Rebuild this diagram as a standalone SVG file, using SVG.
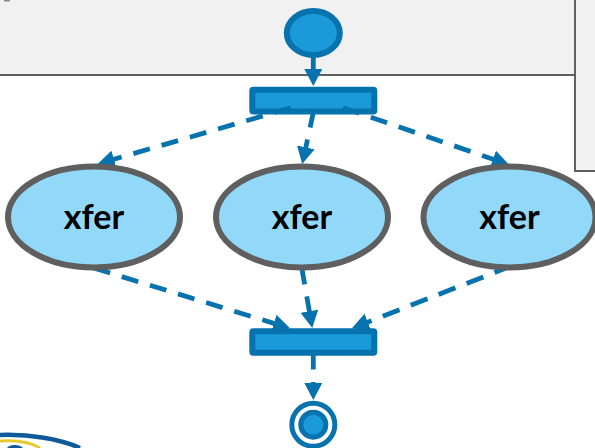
<svg xmlns="http://www.w3.org/2000/svg" width="595" height="448" viewBox="0 0 595 448">
<style>
.pseudo{fill:#1b9ad9;stroke:#0672ae;stroke-width:6}
.task{fill:#92d8f9;stroke:#5f5f5f;stroke-width:6}
.lbl{font-family:Lato,"Liberation Sans",sans-serif;font-weight:700;font-size:34px;fill:#000;text-anchor:middle}
.flow{fill:none;stroke:#0672ae;stroke-width:4.800}
.dash{stroke-dasharray:17.200 12.200}
.panel{fill:#f1f1f1;stroke:#606060;stroke-width:2}
</style>
<defs>
<marker id="ah" markerUnits="userSpaceOnUse" markerWidth="20" markerHeight="20" refX="9" refY="9" orient="auto">
<path d="M0 0L17 9L0 18Z" fill="#0672ae"/>
</marker>
</defs>
<g id="background">
<rect x="-5" y="-5" width="580" height="80" class="panel"/>
<rect x="575" y="-5" width="30" height="176" class="panel"/>
<rect x="4" y="0" width="6" height="1.500" fill="#8a8a8a"/>
<path d="M0 435C30 434 60 439 80 448" fill="none" stroke="#0f5a9c" stroke-width="4.500"/>
<path d="M0 441C18 440 32 443 40 448" fill="none" stroke="#e8c92c" stroke-width="3"/>
<path d="M7 448C9 444 20 444 23 448Z" fill="#0f5a9c"/>
</g>
<g id="fork"><rect x="252.300" y="89.700" width="122" height="21.800" rx="1" class="pseudo"/></g>
<g id="join"><rect x="252.300" y="331.300" width="122" height="21.500" rx="1" class="pseudo"/></g>
<g id="connectors">
<path class="flow" d="M313.300 57V78" marker-end="url(#ah)"/>
<path class="flow dash" d="M291 107.700L105.300 161.800" marker-end="url(#ah)"/>
<path class="flow dash" d="M313.700 110.700L303.900 156.200" marker-end="url(#ah)"/>
<path class="flow dash" d="M343 107.700L501.500 162.100" marker-end="url(#ah)"/>
<path class="flow dash" d="M93.700 268L282.400 326" marker-end="url(#ah)"/>
<path class="flow dash" d="M301.700 267.500L310.900 320.100" marker-end="url(#ah)"/>
<path class="flow dash" style="stroke-dasharray:18 12" d="M511.300 266L359.400 325.400" marker-end="url(#ah)"/>
<path class="flow" d="M313.300 355V369.500"/>
<path class="flow" d="M313.300 382V392" marker-end="url(#ah)"/>
</g>
<g id="start"><ellipse cx="313.300" cy="33" rx="26.500" ry="22" class="pseudo"/></g>
<g id="xfer1"><ellipse cx="94" cy="217" rx="86" ry="50.500" class="task"/><text x="94" y="229.300" class="lbl">xfer</text></g>
<g id="xfer2"><ellipse cx="302" cy="217" rx="86" ry="50.500" class="task"/><text x="302" y="229.300" class="lbl">xfer</text></g>
<g id="xfer3"><ellipse cx="509.500" cy="217" rx="86" ry="50.500" class="task"/><text x="509.500" y="229.300" class="lbl">xfer</text></g>
<g id="end">
<circle cx="313.300" cy="424.700" r="21.500" fill="#fff" stroke="#0672ae" stroke-width="5"/>
<circle cx="313.300" cy="424.700" r="12.500" class="pseudo" style="stroke-width:5"/>
</g>
</svg>
